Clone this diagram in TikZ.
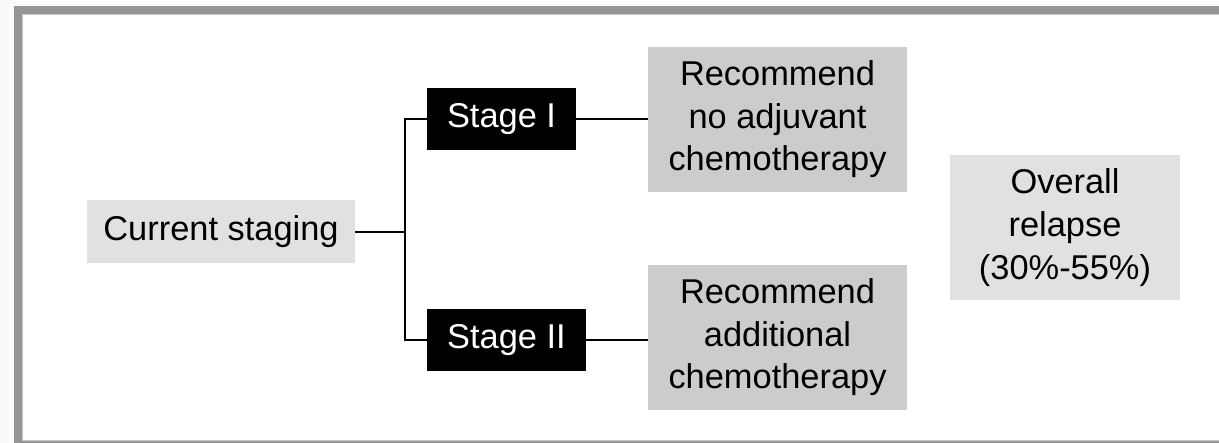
\documentclass[tikz,border=0pt]{standalone}
\usepackage{fontspec}
\setmainfont{Liberation Sans}
\usetikzlibrary{positioning}
\definecolor{framegrey}{HTML}{959595}
\definecolor{pagegrey}{HTML}{FAFAFA}
\definecolor{recgrey}{HTML}{CCCCCC}
\definecolor{lightgrey}{HTML}{E1E1E1}
\tikzset{%
  link/.style = {draw=black,line width=1pt},
  lbox/.style = {rectangle,fill=lightgrey,inner sep=0pt,align=center,
        font=\fontsize{17.2}{21.3}\selectfont},
  rbox/.style = {rectangle,fill=recgrey,inner sep=0pt,align=center,
        minimum width=129.5pt,minimum height=72.5pt,
        font=\fontsize{17.2}{21.3}\selectfont},
  sbox/.style = {rectangle,fill=black,text=white,inner sep=0pt,
        minimum height=31pt,font=\fontsize{17.2}{21.3}\selectfont}
}

\begin{document}
\begin{tikzpicture}[x=0.5pt,y=-0.5pt]
   \useasboundingbox (0,0) rectangle (1219,443);
   % frame
   \fill[pagegrey] (0,0) rectangle (1219,443);
   \fill[framegrey] (14,6) rectangle (1219,443);
   \fill[black!22] (22,14) rectangle (1219,441);
   \fill[white] (23,15) rectangle (1219,440);

   \node[lbox,minimum width=134pt,minimum height=31.5pt] (staging) at (221,231.5) {Current staging};
   \node[sbox,minimum width=74.5pt] (stage-one) at (501.5,119.5) {Stage I};
   \node[sbox,minimum width=79.5pt] (stage-two) at (506.5,340) {Stage II};
   \node[rbox] (no-chemo) at (777.5,119.5) {Recommend\\no adjuvant\\chemotherapy};
   \node[rbox] (add-chemo) at (777.5,337.5) {Recommend\\additional\\chemotherapy};
   \node[lbox,minimum width=115pt,minimum height=72.5pt] (relapse) at (1065,227.5) {Overall\\relapse\\(30\%-55\%)};
   \coordinate (split) at (405,231.5);

   \draw[link] (staging) -- (split);
   \draw[link] (split) |- (stage-one.west);
   \draw[link] (split) |- (stage-two.west);
   \draw[link] (stage-one) -- (no-chemo);
   \draw[link] (stage-two.east) -- (stage-two.east -| add-chemo.west);
\end{tikzpicture}
\end{document}
